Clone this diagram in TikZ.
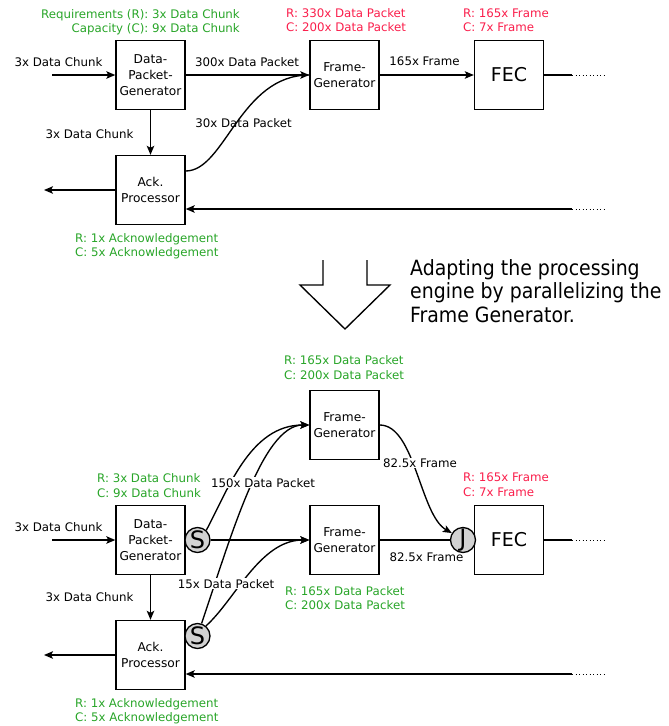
\documentclass[tikz,border=0pt]{standalone}
\usepackage{fontspec}
\setmainfont{DejaVu Sans}
\newfontfamily\condfont{DejaVu Sans Condensed}
\usetikzlibrary{arrows.meta,calc}
\definecolor{reqgreen}{RGB}{40,165,40}
\definecolor{reqred}{RGB}{250,30,75}
\definecolor{joinfill}{RGB}{210,210,210}
\begin{document}
\begin{tikzpicture}[x=1pt,y=-1pt,
  box/.style={draw,line width=1.4pt,minimum width=69pt,minimum height=69pt,
    inner sep=0pt,align=center,font=\fontsize{12.2}{16}\selectfont},
  bigbox/.style={box,font=\fontsize{19}{22}\selectfont},
  joint/.style={circle,draw,line width=1.3pt,fill=joinfill,minimum size=25pt,
    inner sep=0pt,font=\fontsize{24}{24}\selectfont},
  lbl/.style={anchor=base,inner sep=0pt,font=\fontsize{11.8}{14}\selectfont},
  wlbl/.style={lbl,fill=white,inner sep=1pt},
  greenl/.style={lbl,anchor=base west,text=reqgreen},
  redl/.style={lbl,anchor=base west,text=reqred},
  bigtext/.style={anchor=base west,inner sep=0pt,font=\condfont\fontsize{21}{24}\selectfont},
  wire/.style={line width=1.35pt},
  conn/.style={wire,-{Stealth[length=9pt,width=7.5pt,inset=2pt]}},
  dots/.style={line width=1pt,dash pattern=on 1pt off 2.5pt}]
\useasboundingbox (0,0) rectangle (669,726);

% ---------------- original engine ----------------
\node[box] (dpg) at (150.5,75) {Data-\\Packet-\\Generator};
\node[box] (ack) at (150.5,190) {Ack.\\Processor};
\node[box] (fg) at (344.5,75) {Frame-\\Generator};
\node[bigbox] (fec) at (509,75) {FEC};

\node[lbl,anchor=base east,text=reqgreen] (reqA) at (240,18) {Requirements (R): 3x Data Chunk};
\node[lbl,anchor=base east,text=reqgreen] (capA) at (240,32.3) {Capacity (C): 9x Data Chunk};
\node[redl] (reqB) at (286,17) {R: 330x Data Packet};
\node[redl] (capB) at (286,31.5) {C: 200x Data Packet};
\node[redl] (reqC) at (463,17) {R: 165x Frame};
\node[redl] (capC) at (463,31.5) {C: 7x Frame};
\node[greenl] (reqD) at (75,242.3) {R: 1x Acknowledgement};
\node[greenl] (capD) at (75,256.3) {C: 5x Acknowledgement};

\coordinate (inA) at (52,75);
\coordinate (outA) at (44,190);
\coordinate (fecA) at (572,75);
\coordinate (fecAd) at (607,75);
\coordinate (retA) at (572,209);
\coordinate (retAd) at (607,209);

\draw[conn] (inA) -- (dpg.west);
\draw[conn] (dpg.east) -- (fg.west);
\draw[conn] (fg.east) -- (fec.west);
\draw[conn] (dpg.south) -- (ack.north);
\draw[conn] (ack.west) -- (outA);
\draw[wire] ($(ack.east)+(0,-19)$) .. controls (225,171) and (240,75) .. (fg.west);
\draw[wire] (fec.east) -- (fecA);
\draw[dots] (fecA) -- (fecAd);
\draw[conn] (retA) -- (retA -| ack.east);
\draw[dots] (retA) -- (retAd);

\node[lbl] (tA1) at (58.5,66.5) {3x Data Chunk};
\node[lbl] (tA2) at (247,66) {300x Data Packet};
\node[lbl] (tA3) at (424.5,65.7) {165x Frame};
\node[lbl] (tA4) at (89.5,138) {3x Data Chunk};
\node[lbl] (tA5) at (243.5,127) {30x Data Packet};

% ---------------- transition ----------------
\draw[wire] (323,260) -- (323,285) -- (300,285) -- (345,329) -- (390,285) -- (367,285) -- (367,260);
\node[bigtext] (note1) at (410,275) {Adapting the processing};
\node[bigtext] (note2) at (410,298.5) {engine by parallelizing the};
\node[bigtext] (note3) at (410,322) {Frame Generator.};

% ---------------- parallelized engine ----------------
\node[box] (fgU) at (344.5,425) {Frame-\\Generator};
\node[box] (dpg2) at (150.5,540) {Data-\\Packet-\\Generator};
\node[box] (fgL) at (344.5,540) {Frame-\\Generator};
\node[bigbox] (fec2) at (509,540) {FEC};
\node[box] (ack2) at (150.5,655) {Ack.\\Processor};

\node[greenl] (reqE) at (284,364.3) {R: 165x Data Packet};
\node[greenl] (capE) at (284,379.3) {C: 200x Data Packet};
\node[greenl] (reqF) at (97,482.7) {R: 3x Data Chunk};
\node[greenl] (capF) at (97,497) {C: 9x Data Chunk};
\node[redl] (reqG) at (463,481.7) {R: 165x Frame};
\node[redl] (capG) at (463,496.7) {C: 7x Frame};
\node[greenl] (reqH) at (285,595) {R: 165x Data Packet};
\node[greenl] (capH) at (285,609.5) {C: 200x Data Packet};
\node[greenl] (reqI) at (75,707) {R: 1x Acknowledgement};
\node[greenl] (capI) at (75,721) {C: 5x Acknowledgement};

\node[joint] (s1) at (197.5,540) {S};
\node[joint] (s2) at (197.5,636) {S};
\node[joint] (jn) at (463,540) {J};

\coordinate (inB) at (52,540);
\coordinate (outB) at (44,655);
\coordinate (fecB) at (572,540);
\coordinate (fecBd) at (607,540);
\coordinate (retB) at (572,674);
\coordinate (retBd) at (607,674);

\draw[conn] (inB) -- (dpg2.west);
\draw[conn] (dpg2.south) -- (ack2.north);
\draw[conn] (ack2.west) -- (outB);
\draw[conn] (s1.east) -- (fgL.west);
\draw[conn] (s1.48) .. controls (228,490) and (250,425) .. (fgU.west);
\draw[conn] (s2.72) .. controls (230,540) and (262,425) .. (fgU.west);
\draw[conn] (s2.50) .. controls (235,600) and (260,540) .. (fgL.west);
\draw[wire] (fgL.east) -- (jn.west);
\draw[conn] (fgU.east) .. controls (415,425) and (420,515) .. (jn.148);
\draw[wire] (fec2.east) -- (fecB);
\draw[dots] (fecB) -- (fecBd);
\draw[conn] (retB) -- (retB -| ack2.east);
\draw[dots] (retB) -- (retBd);

\node[lbl] (tB1) at (58.5,531) {3x Data Chunk};
\node[lbl] (tB2) at (89.5,601.7) {3x Data Chunk};
\node[wlbl] (tB3) at (263,487.3) {150x Data Packet};
\node[wlbl] (tB4) at (226,588.3) {15x Data Packet};
\node[wlbl] (tB5) at (420,467.3) {82.5x Frame};
\node[lbl] (tB6) at (426.5,561.7) {82.5x Frame};
\end{tikzpicture}
\end{document}
